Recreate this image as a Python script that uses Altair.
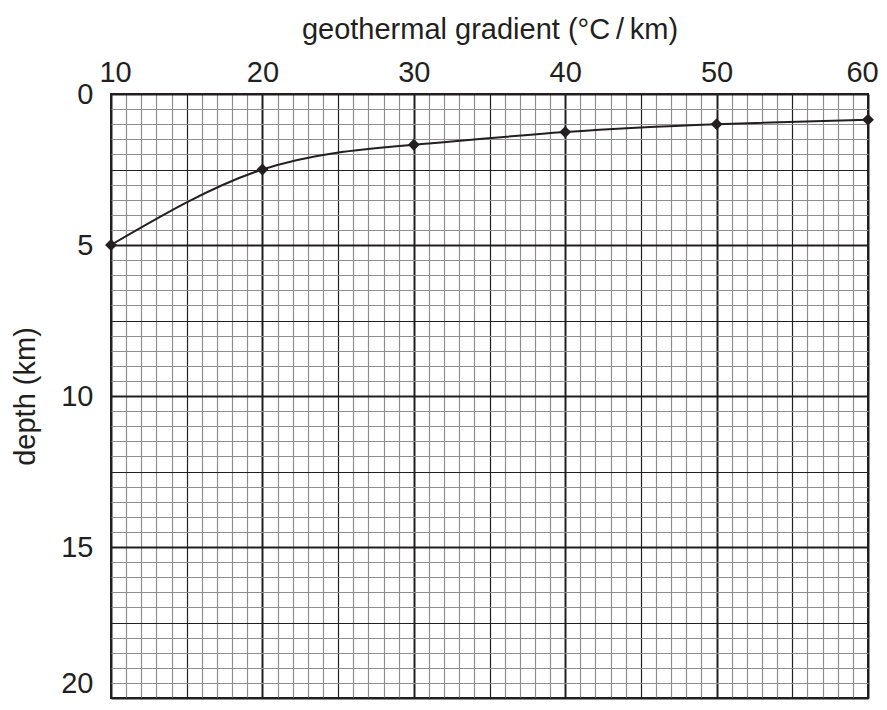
import altair as alt
import pandas as pd

gradient = [10, 20, 30, 40, 50, 60]
depth = [5.0, 2.5, 1.68, 1.26, 1.0, 0.85]

x_grid = list(range(10, 61))
y_grid = [i * 0.5 for i in range(0, 41)]

df = pd.DataFrame({"gradient": gradient, "depth": depth})

FONT = "Liberation Sans"
INK = "#231f20"

x_scale = alt.Scale(domain=[10, 60], nice=False, zero=False)
y_scale = alt.Scale(domain=[0, 20], nice=False, zero=False, reverse=True)

x_axis = alt.Axis(
    orient="top",
    values=x_grid,
    title="geothermal gradient (°C\u2009/\u2009km)",
    titlePadding=14,
    labelExpr="datum.value % 10 === 0 ? format(datum.value, 'd') : ''",
    labelOverlap=False,
    labelFlush=False,
    labelPadding=7,
    labelOffset={"condition": [
        {"test": "datum.value === 10", "value": 4},
        {"test": "datum.value === 60", "value": -6},
    ], "value": 0},
    ticks=False,
    domain=False,
    grid=True,
    gridColor={"condition": {"test": "datum.value % 5 === 0", "value": INK}, "value": "#8f8f8f"},
    gridWidth={"condition": {"test": "datum.value % 10 === 0", "value": 2}, "value": 1.2},
)
y_axis = alt.Axis(
    orient="left",
    values=y_grid,
    title="depth (km)",
    titlePadding=20,
    labelExpr="datum.value % 5 === 0 ? format(datum.value, 'd') : ''",
    labelOverlap=False,
    labelFlush=False,
    labelPadding=18,
    labelBaseline="middle",
    labelOffset={"condition": {"test": "datum.value === 20", "value": -15}, "value": 0},
    ticks=False,
    domain=False,
    grid=True,
    gridColor={"condition": {"test": "datum.value % 2.5 === 0", "value": INK}, "value": "#8f8f8f"},
    gridWidth={"condition": {"test": "datum.value % 5 === 0", "value": 2}, "value": 1.2},
)

base = alt.Chart(df).encode(
    x=alt.X("gradient:Q", scale=x_scale, axis=x_axis),
    y=alt.Y("depth:Q", scale=y_scale, axis=y_axis),
)
line = base.mark_line(interpolate="natural", color=INK, strokeWidth=2)
pts = base.mark_point(shape="diamond", filled=True, color=INK, size=140, opacity=1)

chart = (
    alt.layer(line, pts)
    .properties(
        width=757,
        height=604,
        autosize=alt.AutoSizeParams(type="none"),
        padding={"left": 103, "top": 86, "right": 11, "bottom": 4},
        background="white",
    )
    .configure_view(stroke=INK, strokeWidth=2)
    .configure_axis(
        labelFont=FONT,
        titleFont=FONT,
        labelFontSize=29,
        titleFontSize=29,
        labelColor=INK,
        titleColor=INK,
        titleFontWeight="normal",
    )
)

chart.save("out.html", embed_options={"renderer": "svg", "actions": False})
